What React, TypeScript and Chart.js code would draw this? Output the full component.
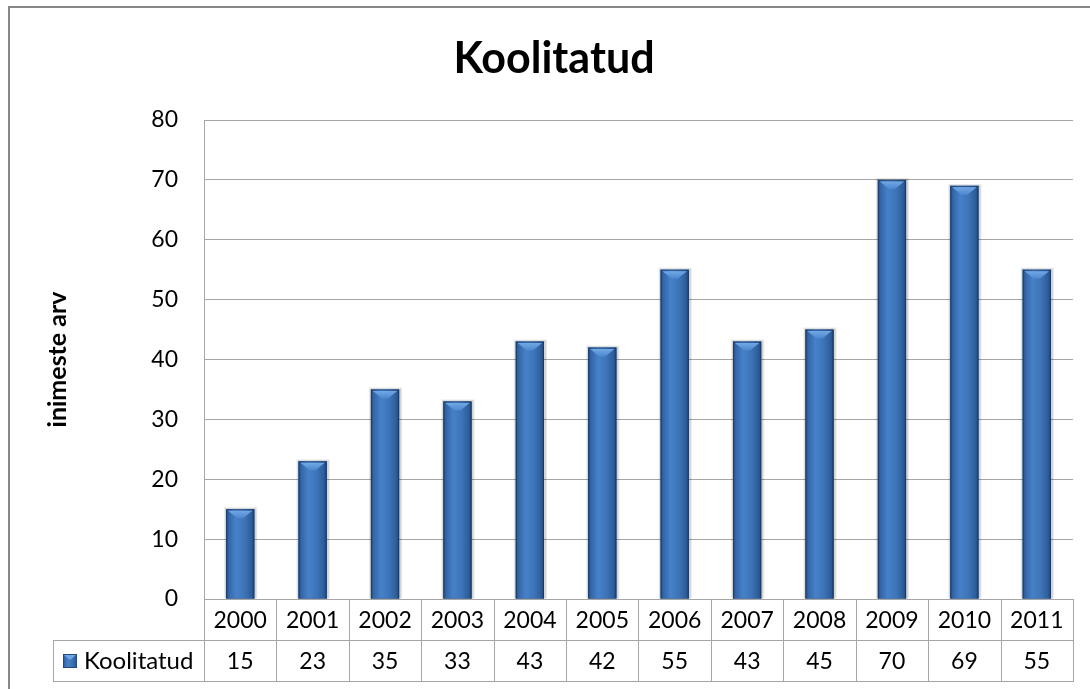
import { useEffect, useRef } from "react";
import { Chart, registerables } from "chart.js";

Chart.register(...registerables);

const chartTitle = "Koolitatud";
const yAxisTitle = "inimeste arv";
const seriesName = "Koolitatud";
const years = ["2000", "2001", "2002", "2003", "2004", "2005", "2006", "2007", "2008", "2009", "2010", "2011"];
const koolitatud = [15, 23, 35, 33, 43, 42, 55, 43, 45, 70, 69, 55];
const yMin = 0;
const yMax = 80;
const yStep = 10;

const FONT = "Lato";
const GRID = "#a6a6a6";

function barGradient(ctx: CanvasRenderingContext2D, l: number, r: number) {
  const g = ctx.createLinearGradient(l, 0, r, 0);
  g.addColorStop(0, "#24497a");
  g.addColorStop(0.1, "#3466a8");
  g.addColorStop(0.35, "#4681c8");
  g.addColorStop(0.65, "#3d74b8");
  g.addColorStop(0.9, "#2d5d9a");
  g.addColorStop(1, "#1f4273");
  return g;
}

const framePlugin = {
  id: "frame",
  beforeDraw(chart: any) {
    const { ctx, width, height } = chart;
    ctx.save();
    ctx.fillStyle = "#ffffff";
    ctx.fillRect(0, 0, width, height);
    ctx.strokeStyle = "#878787";
    ctx.lineWidth = 2;
    ctx.beginPath();
    ctx.moveTo(9, height);
    ctx.lineTo(9, 7);
    ctx.lineTo(width, 7);
    ctx.stroke();
    // title
    ctx.fillStyle = "#000";
    ctx.font = `bold 43px ${FONT}`;
    ctx.textAlign = "center";
    ctx.textBaseline = "alphabetic";
    ctx.fillText(chartTitle, 554, 73);
    ctx.restore();
  },
};

const barStylePlugin = {
  id: "barStyle",
  beforeDatasetsDraw(chart: any) {
    const { ctx } = chart;
    const meta = chart.getDatasetMeta(0);
    ctx.save();
    meta.data.forEach((bar: any) => {
      const { x, y, base, width } = bar.getProps(["x", "y", "base", "width"], true);
      ctx.fillStyle = "rgba(0,0,0,0.10)";
      ctx.fillRect(x - width / 2 - 1, y - 1, width + 3, base - y + 1);
      ctx.fillStyle = "rgba(0,0,0,0.08)";
      ctx.fillRect(x - width / 2 - 2, y - 2, width + 5, base - y + 2);
    });
    ctx.restore();
  },
  afterDatasetsDraw(chart: any) {
    const { ctx } = chart;
    const meta = chart.getDatasetMeta(0);
    ctx.save();
    meta.data.forEach((bar: any) => {
      const { x, y, base, width } = bar.getProps(["x", "y", "base", "width"], true);
      const l = x - width / 2;
      const r = x + width / 2;
      ctx.fillStyle = barGradient(ctx, l, r);
      ctx.fillRect(l, y, width, base - y);
      // top bevel
      const bh = Math.min(9, (base - y) / 2);
      const vg = ctx.createLinearGradient(0, y, 0, y + bh);
      vg.addColorStop(0, "#7aaee8");
      vg.addColorStop(1, "#4c87cf");
      ctx.fillStyle = vg;
      ctx.beginPath();
      ctx.moveTo(l + 2, y + 1.5);
      ctx.lineTo(r - 2, y + 1.5);
      ctx.lineTo(x + 3, y + bh);
      ctx.lineTo(x - 3, y + bh);
      ctx.closePath();
      ctx.fill();
      ctx.strokeStyle = "rgba(20,50,90,0.55)";
      ctx.lineWidth = 1;
      ctx.strokeRect(l + 0.5, y + 0.5, width - 1, base - y);
    });
    ctx.restore();
  },
};

const tablePlugin = {
  id: "dataTable",
  afterDraw(chart: any) {
    const { ctx, chartArea } = chart;
    const xs = chart.scales.x;
    const n = years.length;
    const colW = (chartArea.right - chartArea.left) / n;
    const r1Top = Math.round(chartArea.bottom);
    const r1Bot = r1Top + 41;
    const r2Bot = r1Bot + 41;
    const legL = 53;
    ctx.save();
    ctx.strokeStyle = GRID;
    ctx.lineWidth = 1;
    ctx.beginPath();
    ctx.moveTo(chartArea.left, r1Top + 0.5);
    ctx.lineTo(chartArea.right, r1Top + 0.5);
    ctx.moveTo(legL, r1Bot + 0.5);
    ctx.lineTo(chartArea.right, r1Bot + 0.5);
    ctx.moveTo(legL, r2Bot + 0.5);
    ctx.lineTo(chartArea.right, r2Bot + 0.5);
    for (let i = 0; i < n; i++) {
      const bx = Math.round(xs.getPixelForValue(i) - colW / 2) + 0.5;
      ctx.moveTo(bx, r1Top);
      ctx.lineTo(bx, r2Bot + 1);
    }
    const rx = Math.round(chartArea.right) + 0.5;
    ctx.moveTo(rx, r1Top);
    ctx.lineTo(rx, r2Bot + 1);
    ctx.moveTo(legL + 0.5, r1Bot);
    ctx.lineTo(legL + 0.5, r2Bot + 1);
    ctx.stroke();

    ctx.fillStyle = "#000";
    ctx.font = `23px ${FONT}`;
    ctx.textAlign = "center";
    ctx.textBaseline = "middle";
    for (let i = 0; i < n; i++) {
      const cx = xs.getPixelForValue(i);
      ctx.fillText(years[i], cx, (r1Top + r1Bot) / 2 + 1);
      ctx.fillText(String(koolitatud[i]), cx, (r1Bot + r2Bot) / 2 + 1);
    }
    const kx = 63, ky = 654, ks = 14;
    ctx.fillStyle = barGradient(ctx, kx, kx + ks);
    ctx.fillRect(kx, ky, ks, ks);
    ctx.fillStyle = "#6fa6e6";
    ctx.beginPath();
    ctx.moveTo(kx + 1, ky + 1);
    ctx.lineTo(kx + ks - 1, ky + 1);
    ctx.lineTo(kx + ks / 2, ky + 6);
    ctx.closePath();
    ctx.fill();
    ctx.strokeStyle = "#24497a";
    ctx.strokeRect(kx + 0.5, ky + 0.5, ks - 1, ks - 1);
    ctx.fillStyle = "#000";
    ctx.textAlign = "left";
    ctx.font = `24px ${FONT}`;
    ctx.fillText(seriesName, 84, (r1Bot + r2Bot) / 2 + 1);
    ctx.restore();
  },
};

export default function App() {
  const ref = useRef<HTMLCanvasElement | null>(null);
  useEffect(() => {
    document.body.style.margin = "0";
    const canvas = ref.current;
    if (!canvas) return;
    const chart = new Chart(canvas, {
      type: "bar",
      data: {
        labels: years,
        datasets: [
          {
            label: seriesName,
            data: koolitatud,
            backgroundColor: "#3b72b6",
            borderWidth: 0,
            barPercentage: 0.39,
            categoryPercentage: 1,
          },
        ],
      },
      options: {
        animation: false,
        responsive: false,
        maintainAspectRatio: false,
        layout: { padding: { left: 39, right: 17, top: 120, bottom: 90 } },
        plugins: {
          legend: { display: false },
          title: { display: false },
          tooltip: { enabled: false },
        },
        scales: {
          x: { display: false, offset: true },
          y: {
            min: yMin,
            max: yMax,
            ticks: {
              stepSize: yStep,
              padding: 26,
              color: "#000",
              font: { family: FONT, size: 23 },
            },
            grid: { color: GRID, lineWidth: 1, drawTicks: false },
            border: { color: GRID, width: 1 },
            title: {
              display: true,
              text: yAxisTitle,
              color: "#000",
              font: { family: FONT, size: 25, weight: "bold" },
            },
            afterFit(scale: any) {
              scale.width = 165;
            },
          },
        },
      },
      plugins: [framePlugin, barStylePlugin, tablePlugin],
    });
    return () => chart.destroy();
  }, []);
  return <canvas ref={ref} width={1090} height={689} style={{ display: "block" }} />;
}
